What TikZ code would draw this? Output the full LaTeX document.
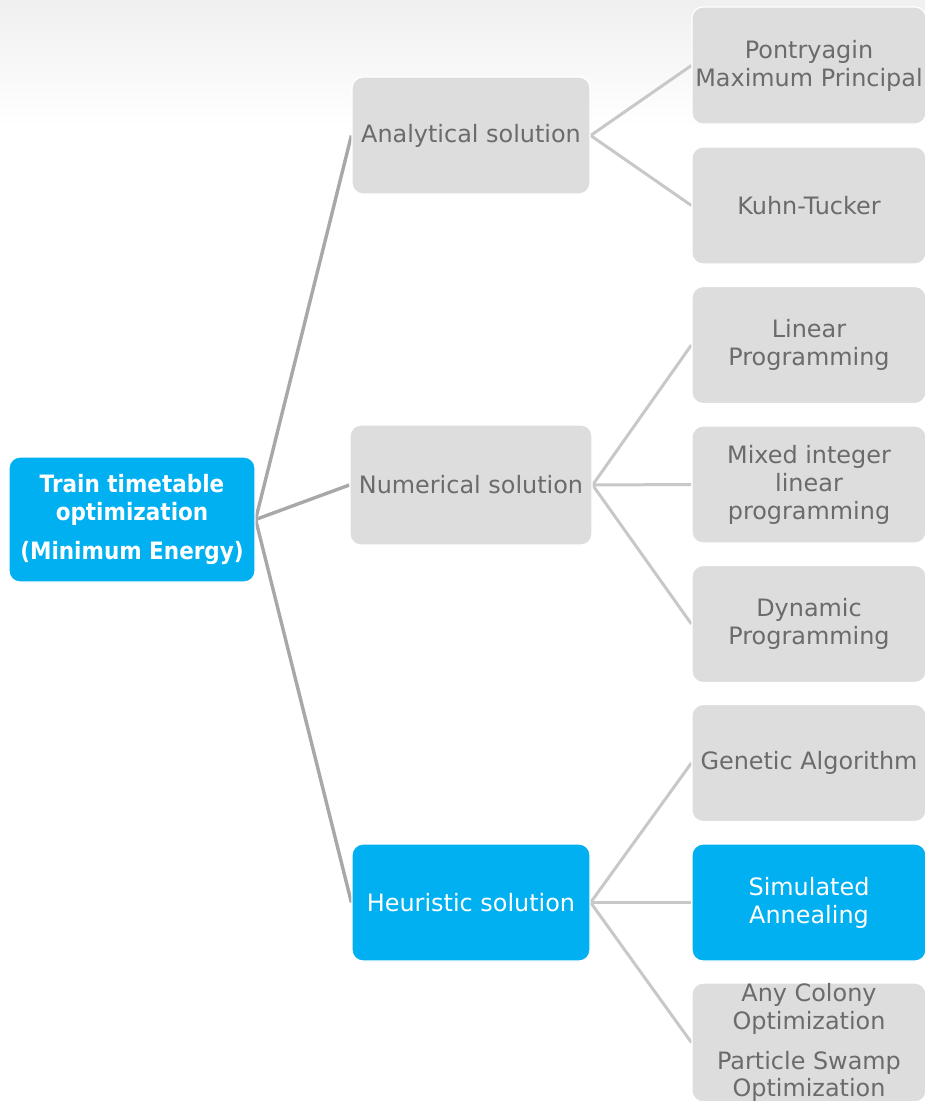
\documentclass[tikz,border=0pt]{standalone}
\usepackage{fontspec}
\setmainfont{DejaVu Sans}[BoldFeatures={FakeStretch=0.9}]
\usetikzlibrary{backgrounds}
\definecolor{skyblue}{HTML}{00B0F0}
\definecolor{boxgray}{HTML}{DDDDDD}
\definecolor{txtgray}{HTML}{6B6B6B}
\definecolor{trunk}{HTML}{A8A8A8}
\definecolor{twig}{HTML}{C8C8C8}
\tikzset{
  x=1bp, y=-1bp,
  box/.style={rectangle, rounded corners=11bp, draw=white, line width=1.2bp,
    align=center, inner sep=0pt, font=\fontsize{24}{28}\selectfont},
  graybox/.style={box, fill=boxgray, text=txtgray},
  bluebox/.style={box, fill=skyblue, text=white},
  midbox/.style={minimum width=238bp, minimum height=117bp},
  leafbox/.style={minimum width=234bp, minimum height=117bp},
  trunkline/.style={draw=trunk, line width=3.4bp},
  twigline/.style={draw=twig, line width=3bp},
}
\begin{document}
\begin{tikzpicture}
\useasboundingbox (0,0) rectangle (925,1101);
\begin{scope}
\clip (0,0) rectangle (925,1101);

% root
\node[bluebox, minimum width=246bp, minimum height=125bp,
      font=\fontsize{24}{28}\selectfont\bfseries] (root) at (132,519.5)
  {Train timetable\\optimization\\[12bp](Minimum Energy)};

% second level
\node[graybox, midbox] (ana) at (471,135.5) {Analytical solution};
\node[graybox, minimum width=242bp, minimum height=120bp] (num) at (471,485) {Numerical solution};
\node[bluebox, midbox] (heu) at (471,902.5) {Heuristic solution};

% leaves
\node[graybox, leafbox] (pmp) at (809,65.5) {Pontryagin\\Maximum Principal};
\node[graybox, leafbox] (kt)  at (809,205.5) {Kuhn-Tucker};
\node[graybox, leafbox] (lp)  at (809,345) {Linear\\Programming};
\node[graybox, leafbox] (milp) at (809,484.5) {Mixed integer\\linear\\programming};
\node[graybox, leafbox] (dp)  at (809,624) {Dynamic\\Programming};
\node[graybox, leafbox] (ga)  at (809,763) {Genetic Algorithm};
\node[bluebox, leafbox] (sa)  at (809,902.5) {Simulated\\Annealing};
\node[graybox, leafbox] (aco) at (809,1042.5)
  {Any Colony\\Optimization\\[12bp]Particle Swamp\\Optimization};

\begin{scope}[on background layer]
  % soft band along the top
  \shade[top color=black!6, bottom color=white] (0,0) rectangle (925,128);
  % connectors
  \draw[trunkline] (root.east) -- (ana.west);
  \draw[trunkline] (root.east) -- (num.west);
  \draw[trunkline] (root.east) -- (heu.west);
  \draw[twigline] (ana.east) -- (pmp.west);
  \draw[twigline] (ana.east) -- (kt.west);
  \draw[twigline] (num.east) -- (lp.west);
  \draw[twigline] (num.east) -- (milp.west);
  \draw[twigline] (num.east) -- (dp.west);
  \draw[twigline] (heu.east) -- (ga.west);
  \draw[twigline] (heu.east) -- (sa.west);
  \draw[twigline] (heu.east) -- (aco.west);
\end{scope}
\end{scope}
\end{tikzpicture}
\end{document}
